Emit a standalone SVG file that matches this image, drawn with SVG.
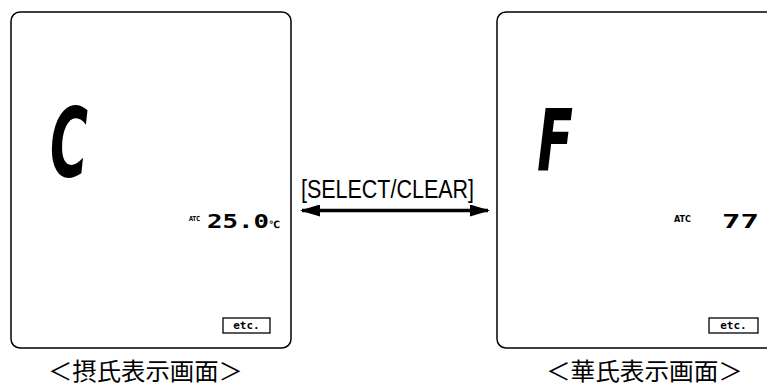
<svg xmlns="http://www.w3.org/2000/svg" width="767" height="388" viewBox="0 0 767 388">
<style>
.panel{fill:#fff;stroke:#000;stroke-width:1.5}
.big{font-family:"DejaVu Sans",sans-serif;font-weight:bold;font-style:italic;fill:#000}
.atc{font-family:"DejaVu Sans",sans-serif;font-weight:bold;fill:#000}
.num{font-family:"DejaVu Sans Mono","DejaVu Sans",monospace;font-weight:bold;fill:#000}
.etcbox{fill:#fff;stroke:#000;stroke-width:1.3}
.etc{font-family:"DejaVu Sans Mono",monospace;font-weight:bold;font-size:11px;fill:#000}
.cap{font-family:"Noto Sans CJK JP","Noto Sans CJK SC",sans-serif;font-size:24px;fill:#000}
.lbl{font-family:"Liberation Sans",sans-serif;font-size:26px;fill:#000}
.conn{stroke:#000;stroke-width:3.5;fill:none}
</style>
<defs>
<marker id="ah" viewBox="0 0 20 12" refX="18" refY="6" markerUnits="userSpaceOnUse" markerWidth="20" markerHeight="12" orient="auto-start-reverse">
<path d="M0,0 L20,6 L0,12 Z" fill="#000"/>
</marker>
</defs>
<g id="celsius">
<rect class="panel" x="11" y="12" width="280" height="336" rx="9"/>
<text class="big" x="50" y="177" font-size="96" textLength="38" lengthAdjust="spacingAndGlyphs">C</text>
<text class="atc" x="189" y="221" font-size="7" textLength="11" lengthAdjust="spacingAndGlyphs">ATC</text>
<text class="num" x="207" y="228" font-size="19" textLength="62" lengthAdjust="spacingAndGlyphs">25.0</text>
<text class="atc" x="269" y="228" font-size="10" textLength="11" lengthAdjust="spacingAndGlyphs">℃</text>
<rect class="etcbox" x="223" y="318" width="47" height="15"/>
<text class="etc" x="246.5" y="329" text-anchor="middle">etc.</text>
</g>
<g id="fahrenheit">
<rect class="panel" x="497" y="12" width="290" height="336" rx="9"/>
<text class="big" x="537" y="170" font-size="86" textLength="36" lengthAdjust="spacingAndGlyphs">F</text>
<text class="atc" x="674" y="222" font-size="8" textLength="17" lengthAdjust="spacingAndGlyphs">ATC</text>
<text class="num" x="722" y="228" font-size="19" textLength="37" lengthAdjust="spacingAndGlyphs">77</text>
<rect class="etcbox" x="709" y="318" width="49" height="15"/>
<text class="etc" x="733.5" y="329" text-anchor="middle">etc.</text>
</g>
<g id="connectors">
<line class="conn" x1="302" y1="210.5" x2="488" y2="210.5" marker-start="url(#ah)" marker-end="url(#ah)"/>
<text class="lbl" x="301" y="198" textLength="173" lengthAdjust="spacingAndGlyphs">[SELECT/CLEAR]</text>
</g>
<g id="captions">
<text class="cap" x="48" y="380" textLength="195" lengthAdjust="spacingAndGlyphs">＜摂氏表示画面＞</text>
<text class="cap" x="546" y="380" textLength="197" lengthAdjust="spacingAndGlyphs">＜華氏表示画面＞</text>
</g>
</svg>
